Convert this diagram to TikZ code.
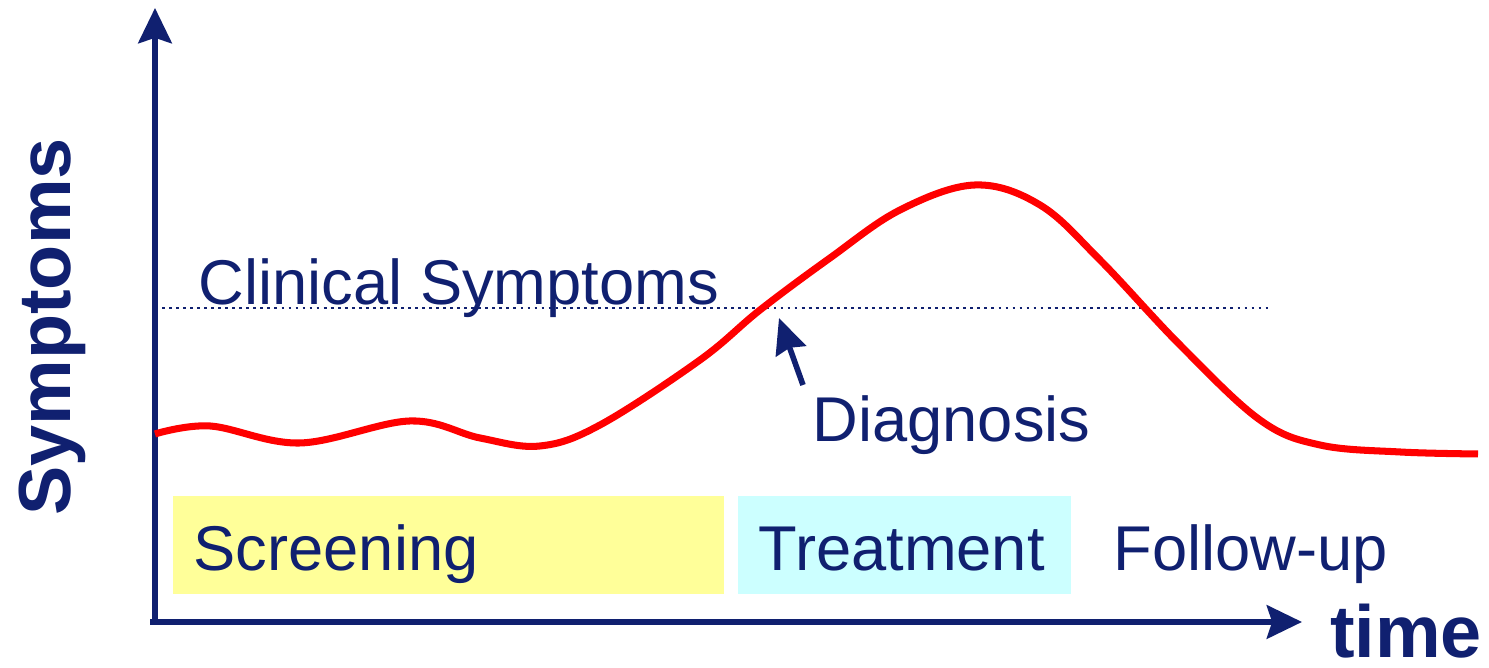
\documentclass[tikz,border=0pt]{standalone}
\usepackage{fontspec}
\setmainfont{Liberation Sans}
\usetikzlibrary{arrows.meta,positioning}
\definecolor{navy}{RGB}{16,32,112}
\definecolor{curvered}{RGB}{255,0,0}
\definecolor{paleyellow}{RGB}{255,255,153}
\definecolor{palecyan}{RGB}{204,255,255}
\tikzset{
  axis/.style={navy,line width=1.7pt,-{Stealth[length=10pt,width=9.5pt,inset=1.5pt]}},
  label/.style={navy,font=\fontsize{18}{20}\selectfont,inner sep=0pt},
  biglabel/.style={navy,font=\fontsize{21}{24}\selectfont\bfseries,inner sep=0pt},
  phase/.style={label,anchor=south west,minimum height=0.98cm,inner xsep=0.21cm,
    text height=0.6cm,text depth=0.1cm,align=left},
}

\begin{document}
\begin{tikzpicture}
    \useasboundingbox (0,0) rectangle (14.89,6.68);
    % axes
    \coordinate (O) at (1.55,0.46);
    \coordinate (ytop) at (1.55,6.60);
    \coordinate (xend) at (13.02,0.46);
    \draw[axis] (1.50,0.46) -- (xend);
    \draw[axis] (O) -- (ytop);
    \node[biglabel,rotate=90,anchor=base] (ylab) at (0.70,3.41){Symptoms};
    \node[biglabel,anchor=base] (xlab) at (14.06,0.10){time};
    % threshold
    \coordinate (thrA) at (1.55,3.60);
    \coordinate (thrB) at (12.70,3.60);
    \draw[navy,line width=0.8pt,dash pattern=on 0.8pt off 1.2pt] (thrA) -- (thrB);
    \node[label,anchor=base west] (clin) at (1.98,3.63){Clinical Symptoms};
    % symptom curve
    \draw[curvered,line width=2pt] plot[smooth,tension=0.6] coordinates {
      (1.55,2.34) (2.10,2.42) (3.00,2.25) (4.10,2.47) (4.80,2.30) (5.40,2.22)
      (6.00,2.43) (7.00,3.08) (7.60,3.58) (8.30,4.10) (9.00,4.58) (9.75,4.83)
      (10.40,4.63) (11.00,4.08) (11.80,3.23) (12.60,2.48) (13.20,2.23)
      (14.00,2.16) (14.78,2.14)};
    % diagnosis
    \node[label,anchor=base west] (diag) at (8.12,2.26){Diagnosis};
    \coordinate (diagtip) at (7.79,3.50);
    \draw[navy,line width=1.6pt,-{Stealth[length=10pt,width=9pt,inset=1pt]}] (8.03,2.83) -- (diagtip);
    % phases
    \node[phase,fill=paleyellow,text width=5.09cm] (screen) at (1.72,0.73){Screening};
    \node[phase,fill=palecyan,text width=2.91cm] (treat) at (7.37,0.73){Treatment};
    \node[label,anchor=base west] (follow) at (11.13,0.97){Follow-up};
  \end{tikzpicture}
\end{document}
